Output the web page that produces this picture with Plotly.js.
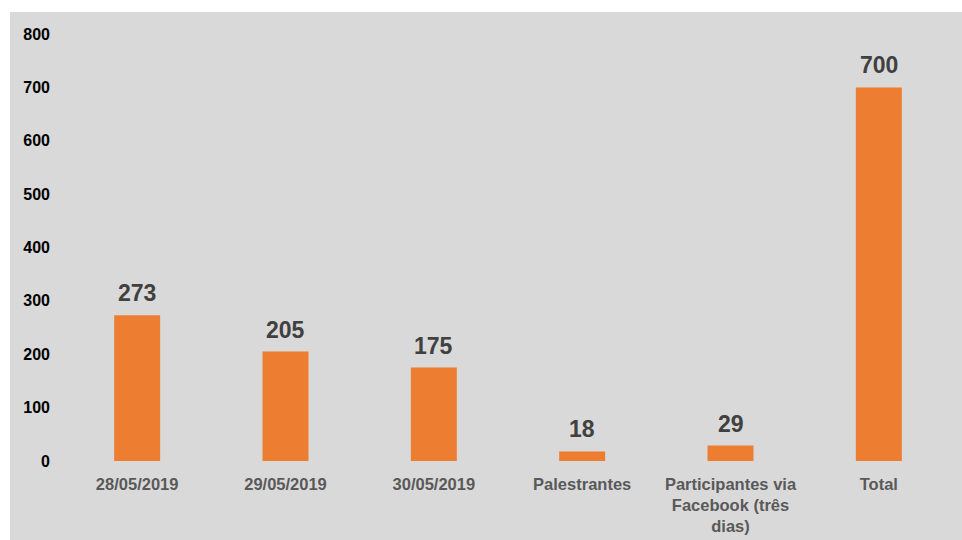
<!DOCTYPE html>
<html>
<head>
<meta charset="utf-8">
<script src="https://cdn.plot.ly/plotly-3.0.1.min.js"></script>
<style>
  html, body { margin: 0; padding: 0; background: #ffffff; width: 962px; height: 540px; overflow: hidden; }
  #chart { position: absolute; left: 10px; top: 12px; width: 952px; height: 528px; }
</style>
</head>
<body>
<div id="chart"></div>
<script>
const categories = ["28/05/2019", "29/05/2019", "30/05/2019", "Palestrantes", "Participantes via<br>Facebook (três<br>dias)", "Total"];
const values = [273, 205, 175, 18, 29, 700];
const yTicks = [0, 100, 200, 300, 400, 500, 600, 700, 800];

const trace = {
  type: "bar",
  x: categories,
  y: values,
  marker: { color: "#ED7D31" },
  hoverinfo: "x+y"
};

const annotations = categories.map((c, i) => ({
  x: c,
  y: values[i],
  xref: "x",
  yref: "y",
  text: String(values[i]),
  showarrow: false,
  yanchor: "bottom",
  yshift: 7,
  font: { family: "Liberation Sans, Arial, sans-serif", size: 23, color: "#404040", weight: "bold" }
}));

const layout = {
  width: 952,
  height: 528,
  paper_bgcolor: "#D9D9D9",
  plot_bgcolor: "#D9D9D9",
  margin: { l: 53, r: 9, t: 22, b: 79 },
  showlegend: false,
  bargap: 0.69,
  font: { family: "Liberation Sans, Arial, sans-serif" },
  xaxis: {
    type: "category",
    range: [-0.5, 5.5],
    showgrid: false,
    zeroline: false,
    showline: false,
    ticks: "",
    ticklabelstandoff: 11,
    tickfont: { family: "Liberation Sans, Arial, sans-serif", size: 16.5, color: "#595959", weight: "bold" }
  },
  yaxis: {
    range: [0, 800],
    tickvals: yTicks,
    ticktext: yTicks.map(String),
    showgrid: false,
    zeroline: false,
    showline: false,
    ticks: "",
    ticklabelstandoff: 12,
    tickfont: { family: "Liberation Sans, Arial, sans-serif", size: 16, color: "#000000", weight: "bold" }
  },
  annotations: annotations
};

Plotly.newPlot("chart", [trace], layout, { displayModeBar: false, staticPlot: true });
</script>
</body>
</html>
